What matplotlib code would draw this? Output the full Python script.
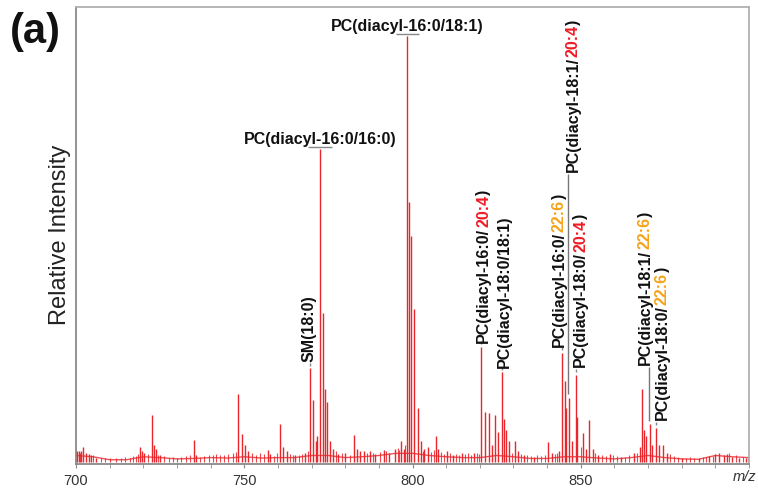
import matplotlib
matplotlib.use("Agg")
import matplotlib.pyplot as plt

plt.rcParams["font.family"] = ["Liberation Sans", "DejaVu Sans"]

# ---------------- data ----------------
peak_mz = [
    700.3, 700.9, 701.6, 702.1, 703.0, 703.8, 704.5, 706.0,
    719.0, 719.6, 720.3, 722.5, 723.2, 723.7, 725.0,
    735.0, 735.6, 748.1, 749.2, 750.2, 751.0, 757.0, 757.8,
    760.6, 761.6, 762.6, 765.0, 768.0,
    769.6, 770.5, 771.2, 771.6, 772.5, 773.5, 774.1, 774.6, 775.5, 776.5,
    778.0, 780.0, 782.6, 783.5, 784.5, 785.6, 787.3, 789.0, 791.5, 793.0,
    794.7, 796.6, 797.5,
    798.5, 799.0, 799.6, 800.5, 801.5, 802.4, 803.5, 804.5, 806.9, 807.5,
    810.3, 812.0, 814.6, 818.2,
    820.5, 821.5, 822.6, 823.5, 824.5, 825.4, 826.6, 827.1, 827.8, 828.8,
    830.4, 831.5, 833.0, 836.0, 840.4, 841.5, 843.5,
    844.5, 845.3, 845.7, 846.5, 847.3, 848.6, 849.0, 850.7, 851.5, 852.6,
    853.5, 855.0, 858.7, 862.0, 865.9, 867.5,
    868.3, 868.8, 869.5, 870.5, 871.3, 872.5, 873.2, 874.5, 875.5,
    880.0, 885.0, 888.0, 890.0, 891.0, 892.5, 893.5, 895.0, 897.0, 899.0,
]
peak_int = [
    2.6, 2.6, 2.6, 3.5, 2.0, 1.8, 1.5, 1.0,
    3.5, 2.5, 2.0, 11.0, 4.0, 3.0, 1.5,
    5.2, 1.5, 16.0, 6.6, 4.0, 2.5, 2.8, 1.8,
    9.0, 3.5, 2.5, 1.5, 2.0,
    22.0, 14.5, 5.0, 6.0, 73.5, 35.0, 17.0, 14.0, 5.0, 3.0,
    1.8, 2.0, 6.3, 3.0, 2.5, 2.5, 2.5, 1.8, 2.8, 2.2,
    3.0, 5.0, 3.0,
    100.0, 61.0, 53.0, 36.0, 12.7, 5.0, 3.0, 3.5, 6.0, 3.0,
    2.5, 1.5, 2.2, 2.0,
    27.0, 11.7, 11.5, 4.0, 11.0, 7.0, 21.0, 10.0, 7.5, 5.0,
    5.0, 2.5, 1.5, 1.2, 4.7, 2.0, 2.5,
    25.6, 19.0, 12.6, 15.0, 5.0, 20.4, 10.6, 6.8, 3.0, 9.9,
    3.0, 1.5, 1.8, 1.2, 2.0, 3.5,
    17.0, 7.5, 6.0, 9.0, 4.0, 8.0, 4.0, 4.0, 2.0,
    1.0, 1.0, 1.3, 1.8, 2.0, 1.6, 1.8, 1.2, 0.8, 1.0,
]

# small background (noise) peaks
noise_mz = [
    701.2, 705.2, 707.3, 708.6, 710.1, 711.8, 713.4, 714.6, 715.9, 716.8, 717.7, 718.5,
    721.4, 724.4, 726.2, 727.5, 728.7, 729.9, 731.2, 732.6, 733.8, 736.8, 738.1, 739.4,
    740.6, 741.7, 742.9, 744.1, 745.3, 746.6, 747.4, 752.2, 753.4, 754.6, 755.8, 758.9,
    759.7, 763.6, 764.4, 766.2, 767.1, 769.0, 777.3, 779.1, 781.3, 786.4, 788.2, 790.3,
    792.2, 795.6, 796.1, 797.9, 803.0, 805.6, 806.3, 808.4, 809.3, 811.2, 813.0, 813.8,
    815.7, 816.6, 817.4, 819.2, 819.8, 829.6, 832.3, 834.1, 835.2, 837.1, 838.2, 839.3,
    842.3, 843.0, 850.0, 854.2, 856.3, 857.4, 859.6, 860.8, 863.1, 864.2, 866.6, 876.6,
    877.7, 878.9, 881.3, 882.6, 883.8, 886.2, 887.1, 889.2, 894.1, 896.2, 898.1, 899.6,
]
noise_int = [
    2.2, 1.6, 1.0, 0.9, 0.8, 0.8, 0.9, 1.2, 1.0, 1.4, 1.3, 1.8,
    1.8, 1.6, 1.3, 1.0, 1.1, 0.9, 1.1, 1.3, 1.5, 1.2, 1.4, 1.6,
    1.6, 1.9, 1.5, 1.7, 1.8, 2.0, 2.4, 2.0, 1.6, 2.2, 1.8, 1.4,
    2.0, 1.8, 1.5, 1.7, 1.9, 2.5, 2.6, 2.0, 1.6, 2.0, 2.2, 2.4,
    2.6, 3.2, 2.8, 4.0, 2.6, 2.4, 2.8, 2.4, 1.8, 2.0, 1.8, 1.6,
    1.8, 2.0, 1.6, 2.2, 1.8, 2.2, 1.8, 1.5, 1.4, 1.6, 1.4, 1.5,
    1.8, 2.0, 3.5, 2.2, 1.6, 1.4, 1.5, 1.3, 1.2, 1.6, 2.0, 1.8,
    1.4, 1.2, 1.0, 1.1, 1.0, 1.2, 1.2, 1.4, 2.0, 1.6, 1.2, 1.3,
]

base_mz = list(range(700, 901, 5))
base_int = [1.5, 1.2, 0.5, 0.5, 1.2, 1.0, 0.7, 0.8, 1.0, 0.9,
            1.2, 0.9, 1.0, 1.0, 1.5, 1.5, 1.0, 1.2, 1.5, 2.0,
            2.0, 1.5, 1.2, 1.0, 1.0, 1.5, 1.2, 0.8, 0.8, 1.2,
            1.2, 0.9, 0.7, 1.0, 1.5, 1.0, 0.7, 0.6, 1.5, 1.2, 1.0]

x_ticks = [700, 750, 800, 850]
x_ticklabels = ["700", "750", "800", "850"]
x_minor = list(range(700, 901, 10))

horiz_labels = ["PC(diacyl-16:0/18:1)", "PC(diacyl-16:0/16:0)"]
horiz_peak_mz = [798.5, 772.5]
horiz_peak_int = [100.0, 73.5]

vert_labels = [
    ["SM(18:0)"],
    ["PC(diacyl-16:0/", "20:4", ")"],
    ["PC(diacyl-18:0/18:1)"],
    ["PC(diacyl-16:0/", "22:6", ")"],
    ["PC(diacyl-18:1/", "20:4", ")"],
    ["PC(diacyl-18:0/", "20:4", ")"],
    ["PC(diacyl-18:1/", "22:6", ")"],
    ["PC(diacyl-18:0/", "22:6", ")"],
]
vert_peak_mz = [769.6, 820.5, 826.6, 844.5, 846.5, 848.6, 870.5, 872.5]
vert_peak_int = [22.0, 27.0, 21.0, 25.6, 15.0, 20.4, 9.0, 8.0]

# ---------------- layout / style ----------------
RED = "#e8262c"
FA_COLORS = {"20:4": "#ee1c25", "22:6": "#f5a31a"}
# label anchor (x in m/z, bottom y in intensity)
vert_pos = [(769.2, 23.5), (821.2, 28.0), (827.2, 22.0), (843.6, 27.0),
            (847.8, 68.0), (850.0, 22.3), (869.1, 22.8), (874.2, 9.9)]
long_leader = {4: (846.3, 16.0, 67.5), 6: (870.3, 9.5, 22.3)}

fig = plt.figure(figsize=(7.58, 4.88), dpi=100)
ax = fig.add_axes([76 / 758, 24 / 488, (749 - 76) / 758, (464 - 7) / 488])
ax.set_xlim(700, 900)
ax.set_ylim(-0.5, 106.8)

# baseline + sticks
ax.plot(base_mz, base_int, color=RED, lw=1.0, alpha=0.8, zorder=2)
ax.vlines(noise_mz, 0, noise_int, color=RED, lw=0.8, alpha=0.85, zorder=2)
ax.vlines(peak_mz, 0, peak_int, color=RED, lw=1.0, zorder=3)

# axes styling
for side in ["left", "bottom"]:
    ax.spines[side].set_color("#8a8a8a")
    ax.spines[side].set_linewidth(1.3)
for side in ["top", "right"]:
    ax.spines[side].set_color("#b0b0b0")
    ax.spines[side].set_linewidth(1.3)
ax.set_yticks([])
ax.set_xticks(x_ticks)
ax.set_xticklabels(x_ticklabels, fontsize=10.5, color="#333333")
ax.set_xticks(x_minor, minor=True)
ax.tick_params(axis="x", which="both", direction="out", length=3, color="#8a8a8a", pad=4)

fig.text(35 / 758, 1 - 32 / 488, "(a)", fontsize=30, fontweight="bold",
         ha="center", va="center", color="#111111")
fig.text(60 / 758, 1 - 235 / 488, "Relative Intensity", fontsize=17, rotation=90,
         ha="center", va="center", color="#222222")
fig.text(756 / 758, 1 - 477 / 488, "m/z", fontsize=10.5, style="italic",
         ha="right", va="center", color="#333333")

# horizontal labels
for txt, mz, inten in zip(horiz_labels, horiz_peak_mz, horiz_peak_int):
    ax.text(mz, inten + 2.2, txt, fontsize=11.5, fontweight="bold",
            ha="center", va="center", color="#111111")
    ax.hlines(inten + 0.5, mz - 3.5, mz + 3.5, color="#888888", lw=1.0)

fig.canvas.draw()
renderer = fig.canvas.get_renderer()
inv = ax.transData.inverted()

for i, parts in enumerate(vert_labels):
    x, y = vert_pos[i]
    ycur = y
    for p in parts:
        t = ax.text(x, ycur, p, fontsize=11.5, fontweight="bold", rotation=90,
                    ha="center", va="bottom", color=FA_COLORS.get(p, "#111111"))
        bb = t.get_window_extent(renderer)
        ycur = inv.transform((0, bb.y1 + 0.2))[1]
    if i in long_leader:
        lx, y0, y1 = long_leader[i]
        ax.vlines(lx, y0, y1, color="#777777", lw=1.0)
    else:
        mz = vert_peak_mz[i]
        ax.vlines(mz, vert_peak_int[i] + 0.6, vert_peak_int[i] + 1.3, color="#888888", lw=1.0)

fig.savefig("out.png", dpi=100)
